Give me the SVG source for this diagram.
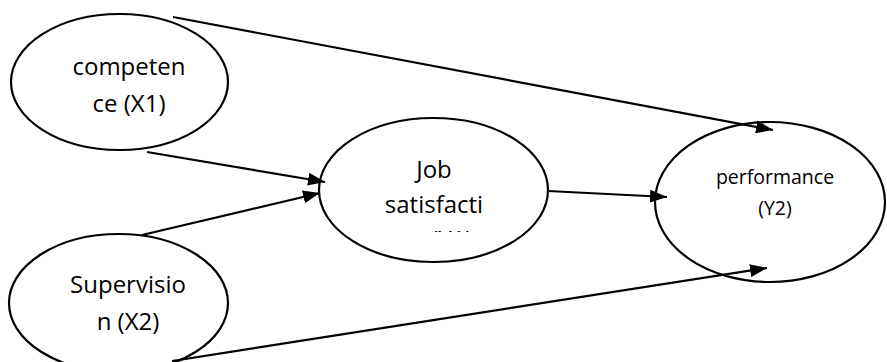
<svg xmlns="http://www.w3.org/2000/svg" width="887" height="362" viewBox="0 0 887 362">
  <style>
    .node { fill: #ffffff; stroke: #000000; stroke-width: 2.2; }
    .label { font-family: "Open Sans", "Liberation Sans", sans-serif; font-size: 24px; fill: #000000; text-anchor: middle; }
    .small { font-size: 19.5px; }
    .edge { stroke: #000000; stroke-width: 2.2; fill: none; marker-end: url(#head); }
  </style>
  <defs>
    <marker id="head" markerUnits="userSpaceOnUse" markerWidth="17" markerHeight="13" refX="17" refY="6.5" orient="auto">
      <path d="M0,0 L17,6.5 L0,13 z" fill="#000000"/>
    </marker>
    <!-- the text box of the middle node cuts off its third line -->
    <clipPath id="jobClip">
      <rect x="300" y="100" width="260" height="132"/>
    </clipPath>
  </defs>

  <g id="competence">
    <ellipse class="node" cx="119.5" cy="82" rx="108.5" ry="68"/>
    <text class="label" x="129" y="75">competen</text>
    <text class="label" x="129" y="112">ce (X1)</text>
  </g>

  <g id="supervision">
    <ellipse class="node" cx="118.5" cy="303" rx="109.5" ry="69"/>
    <text class="label" x="128" y="293">Supervisio</text>
    <text class="label" x="128" y="330">n (X2)</text>
  </g>

  <g id="job-satisfaction">
    <ellipse class="node" cx="433.5" cy="190" rx="114.5" ry="72"/>
    <text class="label" x="434" y="178">Job</text>
    <text class="label" x="434" y="213">satisfacti</text>
    <text class="label" x="434" y="248" clip-path="url(#jobClip)">on (Y1)</text>
  </g>

  <g id="performance">
    <ellipse class="node" cx="770" cy="202" rx="115" ry="80"/>
    <text class="label small" x="775" y="184">performance</text>
    <text class="label small" x="775" y="215">(Y2)</text>
  </g>

  <g id="connectors">
    <line class="edge" x1="173" y1="17" x2="773" y2="130"/>
    <line class="edge" x1="147" y1="152" x2="325" y2="182"/>
    <line class="edge" x1="142" y1="235" x2="320" y2="193"/>
    <line class="edge" x1="548" y1="191" x2="667" y2="197"/>
    <line class="edge" x1="172" y1="361" x2="767" y2="268"/>
  </g>
</svg>
